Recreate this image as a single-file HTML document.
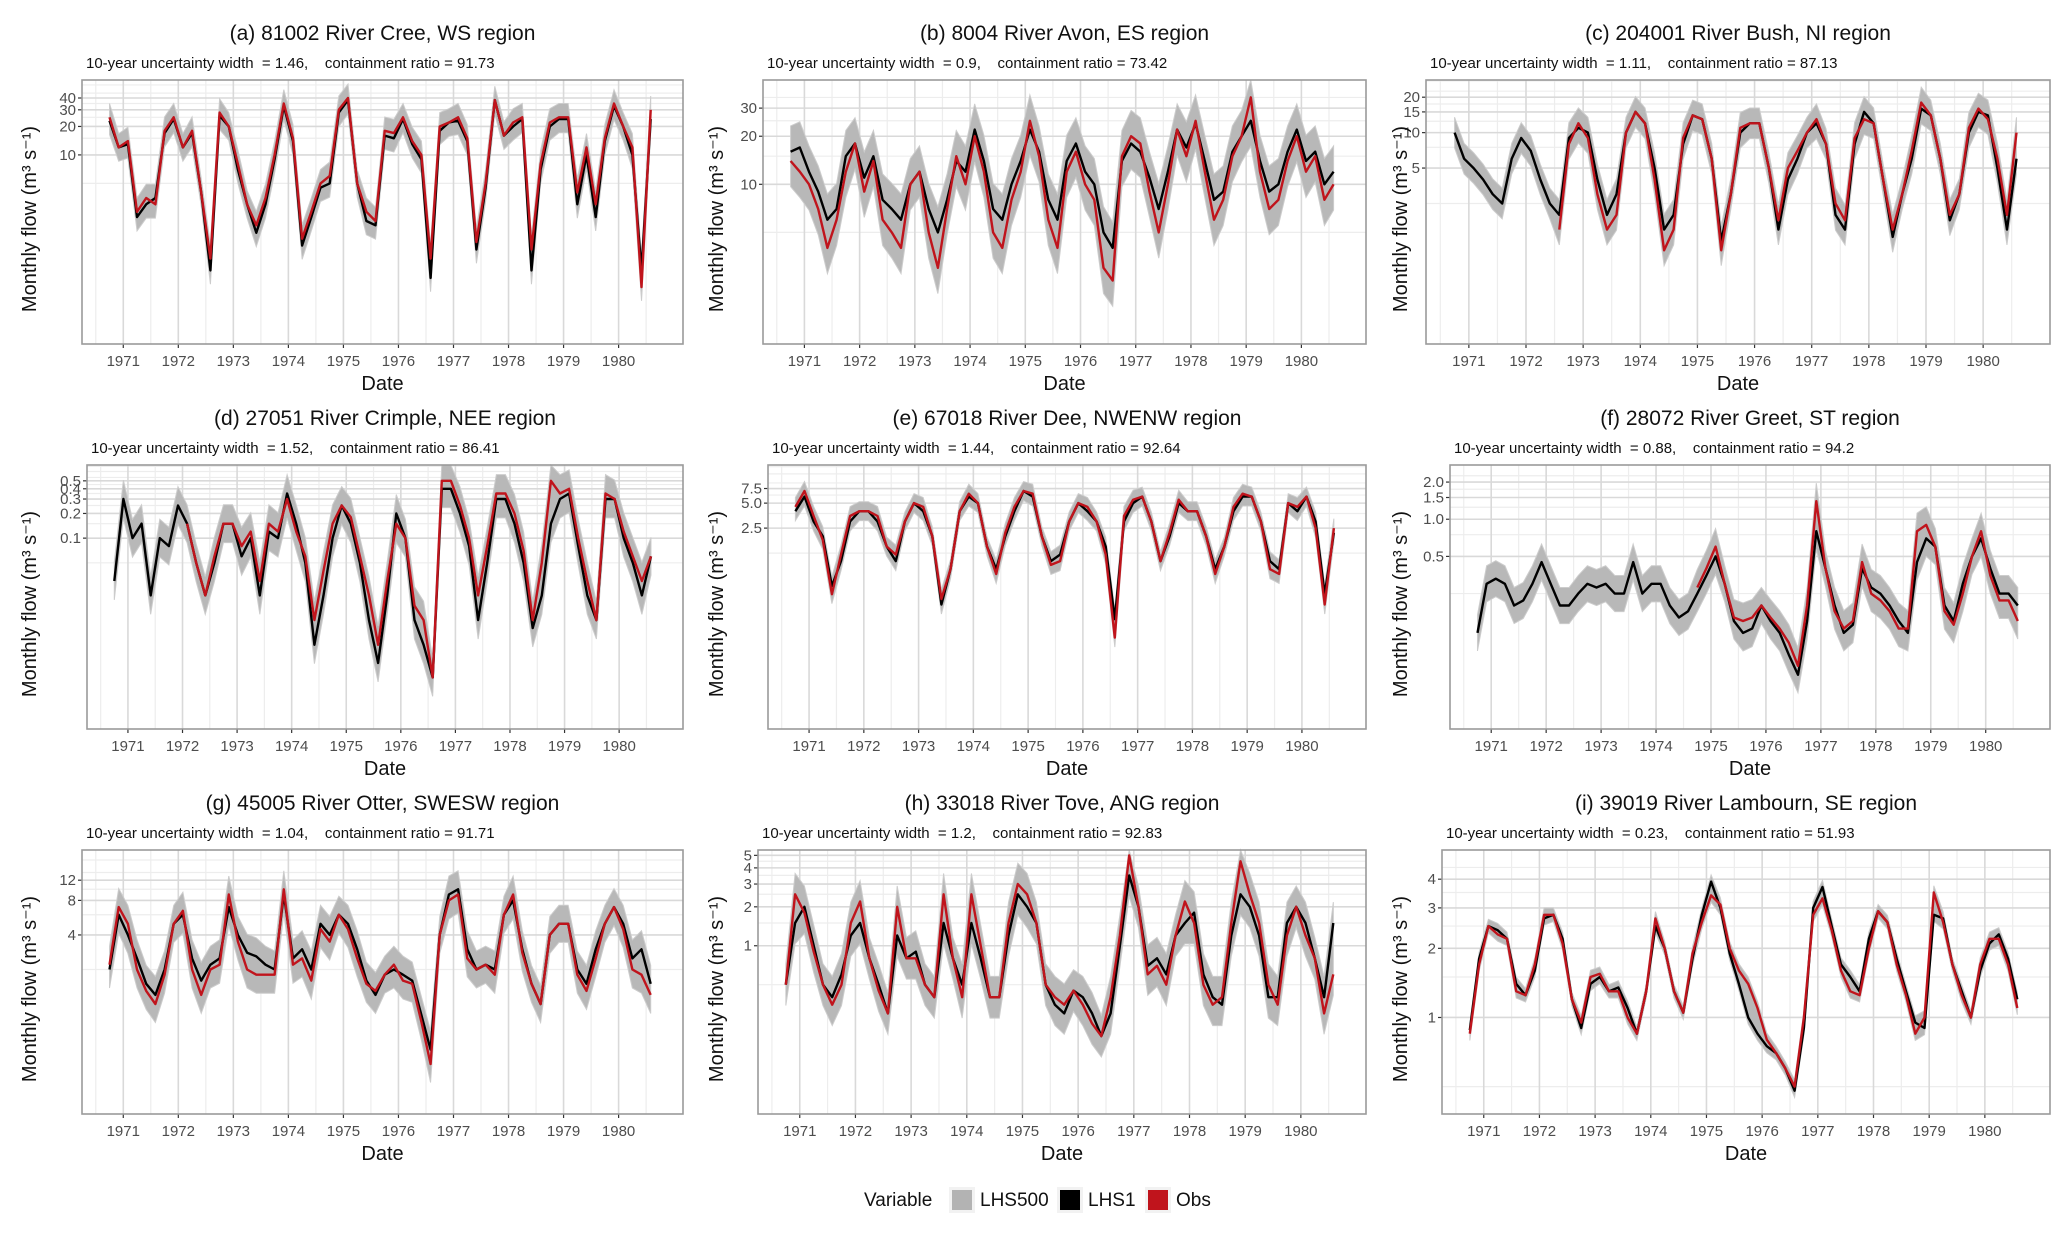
<!DOCTYPE html>
<html><head><meta charset="utf-8"><style>
body{margin:0;background:#fff}
svg text{font-family:"Liberation Sans",Arial,sans-serif}
</style></head><body>
<svg id="fig" width="2067" height="1230" viewBox="0 0 2067 1230" xmlns="http://www.w3.org/2000/svg"></svg>
<script>
// ---- data (2-monthly samples from Oct 1970 to Aug 1980) ----
const yearTicks = [1971,1972,1973,1974,1975,1976,1977,1978,1979,1980];
const titles = ["(a) 81002 River Cree, WS region","(b) 8004 River Avon, ES region","(c) 204001 River Bush, NI region","(d) 27051 River Crimple, NEE region","(e) 67018 River Dee, NWENW region","(f) 28072 River Greet, ST region","(g) 45005 River Otter, SWESW region","(h) 33018 River Tove, ANG region","(i) 39019 River Lambourn, SE region"];
const widths = ["1.46","0.9","1.11","1.52","1.44","0.88","1.04","1.2","0.23"];
const ratios = ["91.73","73.42","87.13","86.41","92.64","94.2","91.71","92.83","51.93"];
const yTicksA=[10,20,30,40], yTicksB=[10,20,30], yTicksC=[5,10,15,20], yTicksD=[0.1,0.2,0.3,0.4,0.5], yTicksE=[2.5,5,7.5], yTicksF=[0.5,1,1.5,2], yTicksG=[4,8,12], yTicksH=[1,2,3,4,5], yTicksI=[1,2,3,4];
const yTickLabelsE=["2.5","5.0","7.5"], yTickLabelsF=["0.5","1.0","1.5","2.0"];
const yDomains=[[0.1,62],[1,45],[0.16,28],[0.00047,0.78],[0.0095,14.4],[0.02,2.75],[0.11,22],[0.05,5.5],[0.38,5.36]];
const bandSpread=[1.4,1.45,1.35,1.7,1.3,1.4,1.45,1.45,1.07];
const N=null;
const lhs1A=[23,12, 13,2.2,3,3.5,17,24, 12,17,4,0.6,26,20, 7,3,1.5,3,9,33, 14,1.1,2.2,4.5,5,28, 38,5,2,1.8,16,15, 24,13,9,0.5,18,22, 23,14,1.0,4.5,38,16, 20,24,0.6,7,20,24, 24,3,10,2.2,14,33, 20,10,0.6,24];
const obsA =[25,12, 14,2.5,3.5,3,18,25, 12,18,4,0.8,28,20, 8,3,1.8,3.5,10,35, 15,1.3,2.5,5,6,30, 40,5,2.5,2,18,17, 25,14,10,0.8,20,22, 25,15,1.2,5,38,16, 22,25,1.0,8,22,25, 25,4,12,3,15,35, 20,12,0.4,30];
const lhs1B=[16,17, 12,9,6,7,15,18, 11,15,8,7,6,10, 12,7,5,8,14,12, 22,14,7,6,10,14, 22,16,8,6,14,18, 12,10,5,4,14,18, 16,11,7,12,22,17, 24,14,8,9,16,20, 25,14,9,10,16,22, 14,16,10,12];
const obsB =[14,12, 10,7,4,6,12,18, 9,14,6,5,4,10, 12,5,3,7,15,10, 20,12,5,4,8,12, 25,15,6,4,12,16, 10,8,3,2.5,15,20, 18,9,5,10,22,15, 25,12,6,8,15,20, 35,12,7,8,14,20, 12,15,8,10];
const lhs1C=[10,6, 5,4,3,2.5,6,9, 7,4,2.5,2,9,11, 10,4,2,3,10,15, 12,5,1.5,2,8,14, 13,6,1.2,3,10,12, 12,5,1.5,4,6,10, 12,8,2,1.5,8,15, 12,4,1.3,3,6,16, 14,6,1.8,3,10,15, 14,5,1.5,6];
const obsC =[N,N, N,N,N,N,N,N, N,N,N,1.5,8,12, 9,3,1.5,2,10,15, 12,4,1.0,1.5,9,14, 13,6,1.0,3,11,12, 12,5,1.8,5,7,10, 13,8,2.5,1.8,9,13, 12,4,1.5,3,7,18, 14,6,2,3,11,16, 13,6,2,10];
const lhs1D=[0.03,0.3, 0.1,0.15,0.02,0.1,0.08,0.25, 0.15,0.05,0.02,0.05,0.15,0.15, 0.06,0.1,0.02,0.12,0.1,0.35, 0.15,0.05,0.005,0.02,0.1,0.25, 0.15,0.05,0.01,0.003,0.02,0.2, 0.1,0.01,0.005,0.002,0.4,0.4, 0.2,0.08,0.01,0.05,0.3,0.3, 0.15,0.05,0.008,0.02,0.15,0.3, 0.35,0.08,0.02,0.01,0.3,0.3, 0.1,0.05,0.02,0.06];
const obsD =[N,N, N,N,N,N,N,N, 0.15,0.05,0.02,0.06,0.15,0.15, 0.08,0.12,0.03,0.15,0.12,0.3, 0.12,0.06,0.01,0.04,0.15,0.25, 0.18,0.06,0.02,0.005,0.03,0.15, 0.1,0.015,0.01,0.002,0.5,0.5, 0.25,0.1,0.02,0.08,0.35,0.35, 0.2,0.07,0.01,0.05,0.5,0.35, 0.4,0.1,0.03,0.01,0.35,0.3, 0.12,0.06,0.03,0.06];
const lhs1E=[4,6, 3,2,0.5,1,3,4, 4,3,1.5,1,3,5, 4,2,0.3,0.8,4,6, 5,1.5,0.8,2,4,7, 6,2,1,1.2,3,5, 4,3,1.5,0.2,3,5, 6,3,1,2,5,4, 4,2,0.8,1.5,4,6, 6,3,1,0.8,5,4, 6,3,0.4,2.2];
const obsE =[4.5,7, 3.5,1.8,0.4,1.2,3.5,4, 4,3.5,1.5,1.2,3,5, 4.5,2,0.35,0.8,4,6.5, 5,1.5,0.7,2.2,4.5,7, 6.5,2,0.9,1,3,5, 4.5,3,1.2,0.12,3.5,5.5, 6,3,1,2.2,5.5,4, 4,2,0.7,1.5,4.5,6.5, 6,3,0.8,0.7,5,4.5, 6,2.5,0.3,2.5];
const lhs1F=[0.12,0.3, 0.33,0.3,0.2,0.22,0.3,0.45, 0.3,0.2,0.2,0.25,0.3,0.28, 0.3,0.25,0.25,0.45,0.25,0.3, 0.3,0.2,0.16,0.18,0.25,0.35, 0.5,0.3,0.15,0.12,0.13,0.2, 0.15,0.12,0.08,0.055,0.15,0.8, 0.4,0.2,0.12,0.14,0.4,0.28, 0.25,0.2,0.15,0.12,0.45,0.7, 0.6,0.2,0.15,0.3,0.5,0.7, 0.4,0.25,0.25,0.2];
const obsF =[N,N, N,N,N,N,N,N, N,N,N,N,N,N, N,N,N,N,N,N, N,N,N,N,0.28,0.4, 0.6,0.3,0.16,0.15,0.16,0.2, 0.16,0.13,0.1,0.065,0.2,1.4, 0.4,0.18,0.13,0.15,0.45,0.25, 0.22,0.18,0.13,0.13,0.8,0.9, 0.6,0.18,0.14,0.25,0.5,0.8, 0.35,0.22,0.22,0.15];
const lhs1G=[2,6, 4,2.5,1.5,1.2,2,5, 6,2.5,1.6,2.2,2.5,7, 4,2.8,2.6,2.2,2,9, 2.5,3,2,5,4,6, 5,3,1.6,1.2,1.8,2, 1.8,1.6,0.8,0.4,4,9, 10,3,2,2.2,2,6, 8,3,1.5,1.0,4,5, 5,2,1.5,3,5,7, 5,2.5,3,1.5];
const obsG =[2.2,7, 5,2,1.3,1.0,1.8,5, 6.5,2,1.2,2,2.2,9, 3.5,2,1.8,1.8,1.8,10, 2.2,2.5,1.6,4.5,3.5,6, 4.5,2.5,1.5,1.3,1.8,2.2, 1.6,1.5,0.7,0.3,4,8, 9,2.5,2,2.2,1.8,6, 9,2.8,1.5,1.0,4,5, 5,1.8,1.3,2.5,5,7, 4.5,2,1.8,1.2];
const lhs1H=[0.5,1.5, 2,1.0,0.5,0.4,0.6,1.2, 1.5,0.8,0.5,0.3,1.2,0.8, 0.9,0.5,0.4,1.5,0.8,0.5, 1.5,0.8,0.4,0.4,1.2,2.5, 2,1.5,0.5,0.35,0.3,0.45, 0.4,0.3,0.2,0.3,1,3.5, 2,0.7,0.8,0.6,1.2,1.5, 1.8,0.6,0.4,0.35,1.2,2.5, 2,1.2,0.4,0.4,1.5,2, 1.5,0.8,0.4,1.5];
const obsH =[0.5,2.5, 1.8,0.9,0.5,0.35,0.5,1.5, 2.2,0.8,0.45,0.3,2,0.8, 0.8,0.5,0.4,2.5,0.8,0.4, 2.5,1,0.4,0.4,1.5,3, 2.5,1.5,0.5,0.4,0.35,0.45, 0.35,0.25,0.2,0.4,1.2,5, 2,0.6,0.7,0.5,1.2,2.2, 1.5,0.5,0.35,0.4,1.5,4.5, 2.5,1.5,0.5,0.35,1.2,2, 1.2,0.8,0.3,0.6];
const lhs1I=[0.88,1.8, 2.5,2.4,2.2,1.4,1.25,1.6, 2.7,2.8,2.2,1.2,0.9,1.4, 1.5,1.3,1.35,1.1,0.85,1.3, 2.5,2.0,1.3,1.05,1.8,2.8, 3.9,3.0,1.9,1.4,1.0,0.85, 0.75,0.7,0.6,0.48,0.9,3.0, 3.7,2.5,1.7,1.5,1.3,2.2, 2.9,2.6,1.8,1.3,0.95,0.9, 2.8,2.7,1.7,1.3,1.0,1.6, 2.1,2.3,1.8,1.2];
const obsI =[0.85,1.7, 2.5,2.3,2.2,1.3,1.25,1.7, 2.8,2.8,2.1,1.2,0.95,1.5, 1.55,1.3,1.3,1.0,0.85,1.3, 2.7,2.0,1.3,1.05,1.9,2.6, 3.4,3.1,2.0,1.6,1.4,1.1, 0.8,0.7,0.6,0.5,1.0,2.8, 3.3,2.4,1.6,1.3,1.25,2.0, 2.9,2.6,1.7,1.25,0.85,1.0, 3.5,2.6,1.7,1.25,1.0,1.7, 2.2,2.2,1.7,1.1];
const startYear=1970.75, stepYears=1/6;

const panels=[
 {l:82,r:683,t:80,ticks:yTicksA,lab:null,lhs:lhs1A,obs:obsA,yt:29},
 {l:763,r:1366,t:80,ticks:yTicksB,lab:null,lhs:lhs1B,obs:obsB,yt:716},
 {l:1426,r:2050,t:80,ticks:yTicksC,lab:null,lhs:lhs1C,obs:obsC,yt:1400},
 {l:87,r:683,t:465,ticks:yTicksD,lab:null,lhs:lhs1D,obs:obsD,yt:29},
 {l:768,r:1366,t:465,ticks:yTicksE,lab:yTickLabelsE,lhs:lhs1E,obs:obsE,yt:716},
 {l:1450,r:2050,t:465,ticks:yTicksF,lab:yTickLabelsF,lhs:lhs1F,obs:obsF,yt:1400},
 {l:82,r:683,t:850,ticks:yTicksG,lab:null,lhs:lhs1G,obs:obsG,yt:29},
 {l:758,r:1366,t:850,ticks:yTicksH,lab:null,lhs:lhs1H,obs:obsH,yt:716},
 {l:1442,r:2050,t:850,ticks:yTicksI,lab:null,lhs:lhs1I,obs:obsI,yt:1400}];
const H=264, X0=1970.25, X1=1981.17;
const NS="http://www.w3.org/2000/svg";
const svg=document.getElementById('fig');
function mk(tag,attrs,parent){const e=document.createElementNS(NS,tag);for(const k in attrs)e.setAttribute(k,attrs[k]);(parent||svg).appendChild(e);return e;}
function txt(s,attrs,parent){const e=mk('text',attrs,parent);e.textContent=s;return e;}

panels.forEach((p,pi)=>{
  const g=mk('g',{});
  
  
  const b=p.t+H, [d0,d1]=yDomains[pi];
  const xs=t=>p.l+(t-X0)/(X1-X0)*(p.r-p.l);
  const ys=v=>b-(Math.log10(v)-Math.log10(d0))/(Math.log10(d1)-Math.log10(d0))*H;
  const cx=(p.l+p.r)/2;
  const ti=txt(titles[pi],{x:cx,y:p.t-40,'text-anchor':'middle','font-size':21,fill:'#111'},g);
  
  
  const st=txt('10-year uncertainty width  = '+widths[pi]+',    containment ratio = '+ratios[pi],{x:p.l+4,y:p.t-12,'font-size':15,fill:'#111',style:'white-space:pre'},g);
  
  
  const step=p.ticks[1]-p.ticks[0];
  const minors=[];
  for(let v=step/2;v<d1;v+=step){ if(v>d0) minors.push(v); }
  minors.forEach(v=>{const gl=mk('line',{x1:p.l,x2:p.r,y1:ys(v),y2:ys(v),stroke:'#ededed','stroke-width':1.2},g);});
  yearTicks.concat([1970]).forEach(y=>{const gl=mk('line',{x1:xs(y+0.5),x2:xs(y+0.5),y1:p.t,y2:b,stroke:'#ededed','stroke-width':1.2},g);});
  p.ticks.forEach((v,i)=>{
    const gl=mk('line',{x1:p.l,x2:p.r,y1:ys(v),y2:ys(v),stroke:'#d9d9d9','stroke-width':1.6},g);
    
    mk('line',{x1:p.l-4,x2:p.l,y1:ys(v),y2:ys(v),stroke:'#333','stroke-width':1.2},g);
    const tl=txt(p.lab?p.lab[i]:String(v),{x:p.l-6,y:ys(v)+5,'text-anchor':'end','font-size':15,fill:'#4d4d4d'},g);
    
  });
  yearTicks.forEach(y=>{
    mk('line',{x1:xs(y),x2:xs(y),y1:p.t,y2:b,stroke:'#d9d9d9','stroke-width':1.6},g);
    mk('line',{x1:xs(y),x2:xs(y),y1:b,y2:b+4,stroke:'#333','stroke-width':1.2},g);
    const tl=txt(String(y),{x:xs(y),y:b+22,'text-anchor':'middle','font-size':15,fill:'#4d4d4d'},g);
    
  });
  const lo=[],hi=[];
  p.lhs.forEach((v,i)=>{const o=p.obs[i];const mn=o==null?v:Math.min(v,o), mx=o==null?v:Math.max(v,o);const t=startYear+i*stepYears;lo.push([xs(t),ys(Math.max(d0,mn/bandSpread[pi]))]);hi.push([xs(t),ys(Math.min(d1,mx*bandSpread[pi]))]);});
  const pts=hi.concat(lo.reverse()).map(q=>q.join(',')).join(' ');
  const band=mk('polygon',{points:pts,fill:'#b8b8b8',stroke:'#cccccc','stroke-width':1},g);
  
  const line=(arr,col,name)=>{let d='',pen=false;arr.forEach((v,i)=>{if(v==null){pen=false;return;}const t=startYear+i*stepYears;d+=(pen?'L':'M')+xs(t).toFixed(1)+','+ys(v).toFixed(1);pen=true;});
    const e=mk('path',{d:d,fill:'none',stroke:col,'stroke-width':2.4,'stroke-linejoin':'round'},g);
    };
  line(p.lhs,'#000','lhs1-line');
  line(p.obs,'#c0141c','obs-line');
  const fr=mk('rect',{x:p.l,y:p.t,width:p.r-p.l,height:H,fill:'none',stroke:'#9a9a9a','stroke-width':1.6},g);
  
  const xt=txt('Date',{x:cx,y:b+46,'text-anchor':'middle','font-size':20,fill:'#111'},g);
  
  const my=p.t+H/2;
  const yt=txt('Monthly flow (m³ s⁻¹)',{x:p.yt,y:my,'text-anchor':'middle','font-size':20,fill:'#111',transform:'rotate(-90 '+(p.yt+7)+' '+my+')'},g);
  
});
const lg=mk('g',{});


txt('Variable',{x:864,y:1206,'font-size':19,fill:'#111'},lg);
const keys=[['LHS500','#b3b3b3',949],['LHS1','#000',1057],['Obs','#c0141c',1145]];
keys.forEach(k=>{
  const e=mk('g',{},lg);
  
  
  mk('rect',{x:k[2],y:1187,width:26,height:26,fill:'#f2f2f2'},e);
  mk('rect',{x:k[2]+3,y:1190,width:20,height:20,fill:k[1]},e);
  txt(k[0],{x:k[2]+31,y:1206,'font-size':19,fill:'#111'},e);
});
</script>
</body></html>
